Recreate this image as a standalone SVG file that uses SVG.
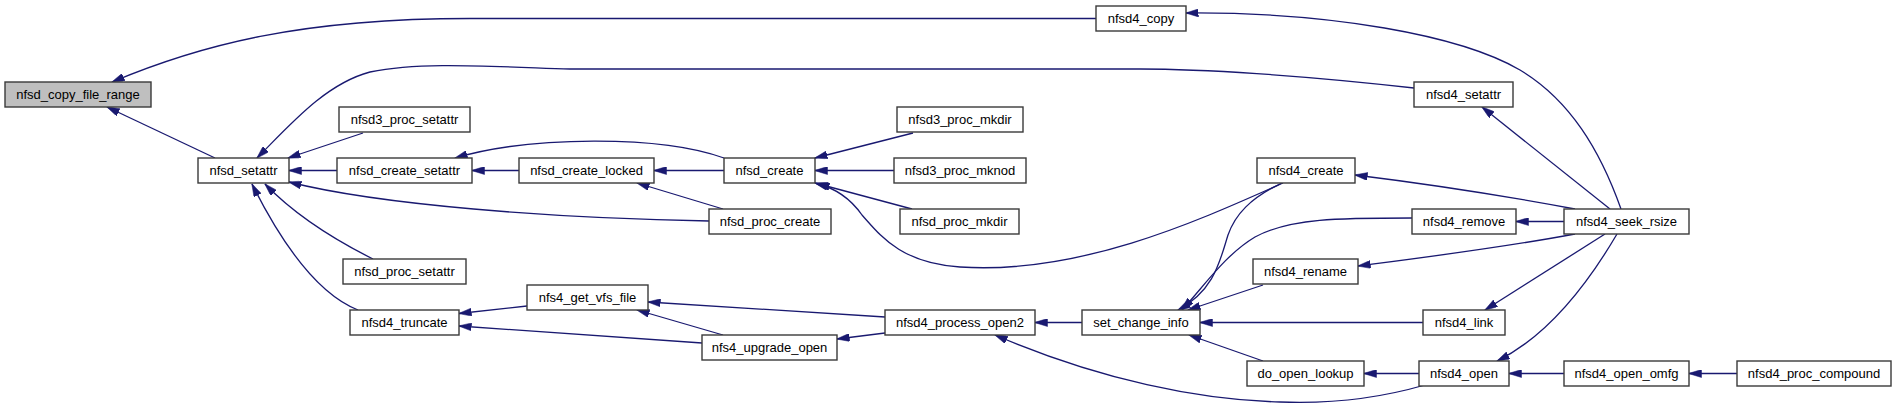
<svg xmlns="http://www.w3.org/2000/svg" width="1896" height="408" viewBox="0 0 1896 408">
<style>
.n rect{fill:#ffffff;stroke:#3a3a3a;stroke-width:1.4}
.n.hl rect{fill:#bfbfbf}
.n text{font-family:"Liberation Sans",Arial,sans-serif;font-size:13px;fill:#000;text-anchor:middle}
#edges path{fill:none;stroke:#191970;stroke-width:1.3;marker-end:url(#ah)}
</style>
<defs>
<marker id="ah" viewBox="0 0 13 8" refX="12.5" refY="4" markerUnits="userSpaceOnUse" markerWidth="13" markerHeight="8" orient="auto">
<path d="M0,0 L13,4 L0,8 z" fill="#191970" stroke="#191970" stroke-width="0.5"/>
</marker>
</defs>
<rect width="1896" height="408" fill="#ffffff"/>
<g id="edges">
<path d="M1096,18.5 L470,18.5 C300,18.5 200,45 112,82"/>
<path d="M215,158 L107,107"/>
<path d="M1414,88 C1300,75 1200,69 1140,69 L570,69 C480,66 420,62 370,72 C325,84 290,125 257,158"/>
<path d="M363,133 L288,158"/>
<path d="M337,170.5 L289,170.5"/>
<path d="M709,221 C550,218 380,205 289,182"/>
<path d="M373,259 C335,240 295,215 265,184"/>
<path d="M358,310 C320,295 285,250 252,184"/>
<path d="M724,158 C660,135 530,136 455,158"/>
<path d="M519,170.5 L472,170.5"/>
<path d="M724,170.5 L654,170.5"/>
<path d="M723,209 L637,183"/>
<path d="M913,133 L815,158"/>
<path d="M894,170.5 L815,170.5"/>
<path d="M912,209 L815,183"/>
<path d="M1283,183 C1200,220 1080,275 960,267 C900,263 880,235 862,215 C850,198 835,188 817,184"/>
<path d="M885,317 L648,302"/>
<path d="M723,335 L637,310"/>
<path d="M527,306 L459,313.5"/>
<path d="M702,343 L459,326"/>
<path d="M885,333 L837,339"/>
<path d="M1082,322.5 L1035,322.5"/>
<path d="M1425,385 C1380,398 1330,404 1280,402 C1200,400 1100,380 995,335"/>
<path d="M1282,183 C1250,198 1235,215 1228,235 C1220,260 1215,290 1178,310"/>
<path d="M1412,218 C1340,218 1290,218 1255,237 C1225,255 1205,285 1182,310"/>
<path d="M1263,285 L1188,310"/>
<path d="M1423,322.5 L1200,322.5"/>
<path d="M1263,361 L1189,335"/>
<path d="M1621,209 C1600,150 1570,100 1520,70 C1460,35 1330,12 1186,13"/>
<path d="M1610,209 L1482,107"/>
<path d="M1575,209 C1500,195 1420,183 1355,175"/>
<path d="M1564,221.5 L1516,221.5"/>
<path d="M1575,234 C1500,248 1420,258 1358,266"/>
<path d="M1605,234 L1485,310"/>
<path d="M1617,234 C1590,280 1550,335 1497,361"/>
<path d="M1419,373.5 L1364,373.5"/>
<path d="M1564,373.5 L1509,373.5"/>
<path d="M1737,373.5 L1689,373.5"/>
</g>
<g id="nfsd_copy_file_range" class="n hl"><rect x="5" y="82" width="146" height="25"/><text x="78" y="99">nfsd_copy_file_range</text></g>
<g id="nfsd_setattr" class="n"><rect x="198" y="158" width="91" height="25"/><text x="243.5" y="175">nfsd_setattr</text></g>
<g id="nfsd3_proc_setattr" class="n"><rect x="339" y="107" width="131" height="25"/><text x="404.5" y="124">nfsd3_proc_setattr</text></g>
<g id="nfsd_create_setattr" class="n"><rect x="337" y="158" width="135" height="25"/><text x="404.5" y="175">nfsd_create_setattr</text></g>
<g id="nfsd_proc_setattr" class="n"><rect x="343" y="259" width="123" height="25"/><text x="404.5" y="276">nfsd_proc_setattr</text></g>
<g id="nfsd4_truncate" class="n"><rect x="350" y="310" width="109" height="25"/><text x="404.5" y="327">nfsd4_truncate</text></g>
<g id="nfsd_create_locked" class="n"><rect x="519" y="158" width="135" height="25"/><text x="586.5" y="175">nfsd_create_locked</text></g>
<g id="nfsd_create" class="n"><rect x="724" y="158" width="91" height="25"/><text x="769.5" y="175">nfsd_create</text></g>
<g id="nfsd_proc_create" class="n"><rect x="709" y="209" width="122" height="25"/><text x="770" y="226">nfsd_proc_create</text></g>
<g id="nfs4_get_vfs_file" class="n"><rect x="527" y="285" width="121" height="25"/><text x="587.5" y="302">nfs4_get_vfs_file</text></g>
<g id="nfs4_upgrade_open" class="n"><rect x="702" y="335" width="135" height="25"/><text x="769.5" y="352">nfs4_upgrade_open</text></g>
<g id="nfsd3_proc_mkdir" class="n"><rect x="897" y="107" width="126" height="25"/><text x="960" y="124">nfsd3_proc_mkdir</text></g>
<g id="nfsd3_proc_mknod" class="n"><rect x="894" y="158" width="132" height="25"/><text x="960" y="175">nfsd3_proc_mknod</text></g>
<g id="nfsd_proc_mkdir" class="n"><rect x="900" y="209" width="119" height="25"/><text x="959.5" y="226">nfsd_proc_mkdir</text></g>
<g id="nfsd4_process_open2" class="n"><rect x="885" y="310" width="150" height="25"/><text x="960" y="327">nfsd4_process_open2</text></g>
<g id="nfsd4_copy" class="n"><rect x="1096" y="6" width="90" height="25"/><text x="1141" y="23">nfsd4_copy</text></g>
<g id="set_change_info" class="n"><rect x="1082" y="310" width="118" height="25"/><text x="1141" y="327">set_change_info</text></g>
<g id="nfsd4_create" class="n"><rect x="1257" y="158" width="98" height="25"/><text x="1306" y="175">nfsd4_create</text></g>
<g id="nfsd4_rename" class="n"><rect x="1253" y="259" width="105" height="25"/><text x="1305.5" y="276">nfsd4_rename</text></g>
<g id="do_open_lookup" class="n"><rect x="1247" y="361" width="117" height="25"/><text x="1305.5" y="378">do_open_lookup</text></g>
<g id="nfsd4_setattr" class="n"><rect x="1414" y="82" width="99" height="25"/><text x="1463.5" y="99">nfsd4_setattr</text></g>
<g id="nfsd4_remove" class="n"><rect x="1412" y="209" width="104" height="25"/><text x="1464" y="226">nfsd4_remove</text></g>
<g id="nfsd4_link" class="n"><rect x="1423" y="310" width="82" height="25"/><text x="1464" y="327">nfsd4_link</text></g>
<g id="nfsd4_open" class="n"><rect x="1419" y="361" width="90" height="25"/><text x="1464" y="378">nfsd4_open</text></g>
<g id="nfsd4_seek_rsize" class="n"><rect x="1564" y="209" width="125" height="25"/><text x="1626.5" y="226">nfsd4_seek_rsize</text></g>
<g id="nfsd4_open_omfg" class="n"><rect x="1564" y="361" width="125" height="25"/><text x="1626.5" y="378">nfsd4_open_omfg</text></g>
<g id="nfsd4_proc_compound" class="n"><rect x="1737" y="361" width="154" height="25"/><text x="1814" y="378">nfsd4_proc_compound</text></g>
</svg>
